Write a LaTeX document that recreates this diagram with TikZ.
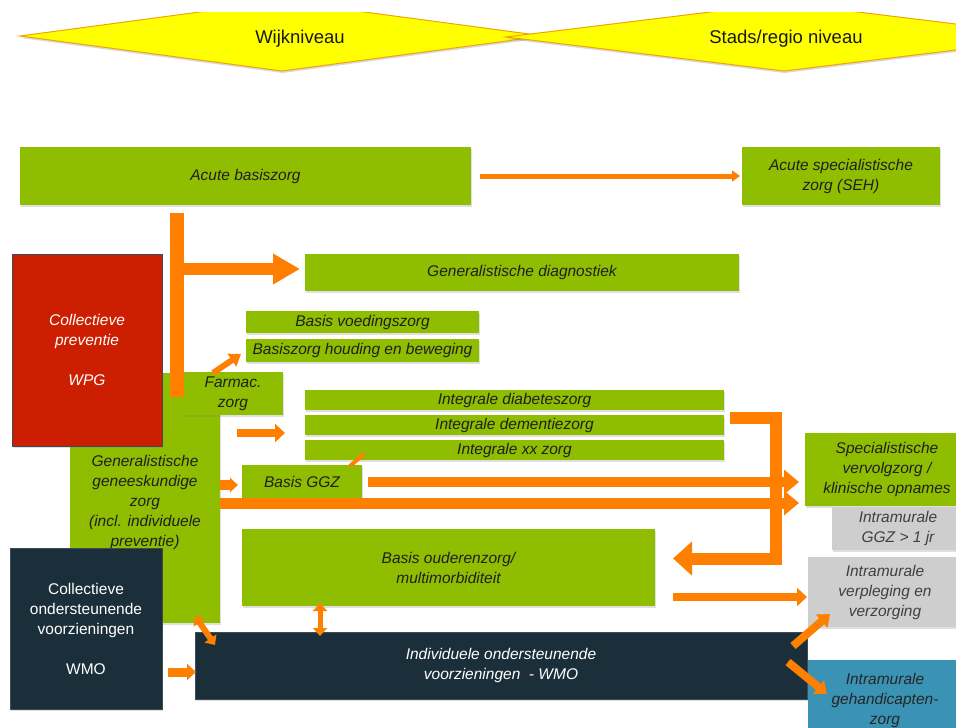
\documentclass[tikz,border=0pt]{standalone}
\usepackage{fontspec}
\setmainfont{Liberation Sans}
\usetikzlibrary{arrows.meta,shadows}
\definecolor{grn}{RGB}{143,190,0}
\definecolor{org}{RGB}{255,128,0}
\definecolor{redb}{RGB}{204,30,0}
\definecolor{navy}{RGB}{27,47,58}
\definecolor{grayb}{RGB}{206,206,206}
\definecolor{blueb}{RGB}{58,146,180}
\definecolor{ylw}{RGB}{255,255,0}
\definecolor{ylwline}{RGB}{240,165,0}
\definecolor{edge}{RGB}{60,75,85}
\begin{document}
\begin{tikzpicture}[x=1pt,y=-1pt,
  shd/.style={drop shadow={shadow xshift=1.2pt,shadow yshift=-1.6pt,opacity=0.25}},
  box/.style={inner sep=0pt,outer sep=0pt,align=center,shd,
    font=\fontsize{15.5}{20}\selectfont\itshape,text=black!88},
  gbox/.style={box,fill=grn},
  graybox/.style={box,fill=grayb,text=black!75},
  navybox/.style={box,fill=navy,draw=edge,line width=0.8pt,text=white},
  redbox/.style={box,fill=redb,draw=edge,line width=0.8pt,text=white},
  bluebox/.style={box,fill=blueb,text=black!85},
  dmd/.style={fill=ylw,draw=ylwline,line width=1pt,
    drop shadow={shadow xshift=0.5pt,shadow yshift=-2pt,opacity=0.3}},
  lvl/.style={font=\fontsize{18.5}{20}\selectfont,text=black!90,inner sep=0pt},
  oline/.style={draw=org,line width=#1},
  ohead/.style 2 args={-{Triangle[length=#1,width=#2]}},
  dhead/.style 2 args={{Triangle[length=#1,width=#2]}-{Triangle[length=#1,width=#2]}},
]
\useasboundingbox (0,0) rectangle (956,728);
\clip (0,0) rectangle (956,728);

% level diamonds
\begin{scope}
\clip (0,12) rectangle (956,728);
\path[dmd] (20,36) -- (282,1) -- (544,36) -- (282,71) -- cycle;
\path[dmd] (506,37) -- (784,3) -- (1062,37) -- (784,71) -- cycle;
\end{scope}
\node[lvl] (wijk) at (300,39) {Wijkniveau};
\node[lvl] (stad) at (786,39) {Stads/regio niveau};

% boxes
\node[gbox,minimum width=451pt,minimum height=58pt] (acute) at (245.5,176) {Acute basiszorg};
\node[gbox,minimum width=198pt,minimum height=58pt] (seh) at (841,176) {Acute specialistische\\zorg (SEH)};
\node[gbox,minimum width=434pt,minimum height=37pt] (diag) at (522,272.5) {Generalistische diagnostiek};
\node[gbox,minimum width=150pt,minimum height=250pt] (gen) at (145,498)
  {\raisebox{-4pt}[\height][\depth]{\begin{tabular}{@{}c@{}}Generalistische\\geneeskundige\\zorg\\(incl. individuele\\preventie)\end{tabular}}};
\node[redbox,minimum width=150pt,minimum height=192pt] (prev) at (87,350)
  {Collectieve\\preventie\\[20pt]WPG};
\node[gbox,minimum width=233pt,minimum height=22pt] (voed) at (362.5,322) {Basis voedingszorg};
\node[gbox,minimum width=233pt,minimum height=23pt] (houd) at (362.5,350.5) {Basiszorg houding en beweging};
\node[gbox,minimum width=100pt,minimum height=43pt] (farm) at (233,393.5) {Farmac.\\zorg};
\node[gbox,minimum width=419pt,minimum height=20pt] (int1) at (514.5,400) {Integrale diabeteszorg};
\node[gbox,minimum width=419pt,minimum height=20pt] (int2) at (514.5,425) {Integrale dementiezorg};
\node[gbox,minimum width=419pt,minimum height=20pt] (int3) at (514.5,450) {Integrale xx zorg};
\node[gbox,minimum width=120pt,minimum height=34pt] (ggz) at (302,482) {Basis GGZ};
\node[gbox,minimum width=164pt,minimum height=73pt] (spec) at (887,469.5)
  {Specialistische\\vervolgzorg /\\klinische opnames};
\node[graybox,minimum width=132pt,minimum height=43pt] (ggzj) at (898,528.5) {Intramurale\\GGZ > 1 jr};
\node[gbox,minimum width=413pt,minimum height=77pt] (oud) at (448.5,567.5) {Basis ouderenzorg/\\multimorbiditeit};
\node[graybox,minimum width=154pt,minimum height=70pt] (verp) at (885,592) {Intramurale\\verpleging en\\verzorging};
\node[navybox,minimum width=152pt,minimum height=161pt,font=\fontsize{15.5}{20}\selectfont] (coll) at (86,628.5)
  {Collectieve\\ondersteunende\\voorzieningen\\[20pt]WMO};
\node[navybox,minimum width=612pt,minimum height=67pt] (ind) at (501,665.5)
  {Individuele ondersteunende\\voorzieningen\ \ - WMO};
\node[bluebox,minimum width=154pt,minimum height=80pt] (gh) at (885,700) {Intramurale\\gehandicapten-\\zorg};

% free ends
\coordinate (a1) at (480,176);
\coordinate (t1) at (177,213);
\coordinate (t2) at (177,397);
\coordinate (tj) at (171,269);
\coordinate (fa) at (213,373);
\coordinate (fb) at (241,354);
\coordinate (ia) at (237,433);
\coordinate (ib) at (285,433);
\coordinate (ga) at (220,485);
\coordinate (gb) at (238,485);
\coordinate (sa) at (350,466);
\coordinate (sb) at (364,454);
\coordinate (ka) at (368,482);
\coordinate (kb) at (799,482);
\coordinate (la) at (220,503);
\coordinate (lb) at (799,503);
\coordinate (ba) at (730,417.5);
\coordinate (bc) at (776,558.5);
\coordinate (bb) at (673,558.5);
\coordinate (oa) at (673,597);
\coordinate (ob) at (807,597);
\coordinate (va) at (320,603);
\coordinate (vb) at (320,636);
\coordinate (da) at (195,616);
\coordinate (db) at (215,645);
\coordinate (ca) at (168,672);
\coordinate (cb) at (196,672);
\coordinate (ra) at (793,646);
\coordinate (rb) at (830,614);
\coordinate (qa) at (788,662);
\coordinate (qb) at (827,694);

% connectors
\draw[oline=5pt,ohead={8pt}{11pt}] (a1) -- ([xshift=-2pt]seh.west);
\draw[oline=14pt] (t1) -- (t2);
\draw[oline=12pt,ohead={27pt}{29pt}] (tj) -- ([xshift=-5pt]tj -| diag.west);
\draw[oline=6pt,ohead={11pt}{15pt}] (fa) -- (fb);
\draw[oline=8pt,ohead={10pt}{18pt}] (ia) -- (ib);
\draw[oline=10pt,ohead={8pt}{14pt}] (ga) -- (gb);
\draw[oline=4pt] (sa) -- (sb);
\draw[oline=12pt,line join=miter,ohead={19pt}{33pt}] (ba) -| (bc) -- (bb);
\draw[oline=10pt,ohead={15pt}{24pt}] (ka) -- (kb);
\draw[oline=11pt,ohead={15pt}{24pt}] (la) -- (lb);
\draw[oline=8pt,ohead={10pt}{18pt}] (oa) -- (ob);
\draw[oline=5pt,dhead={8pt}{14pt}] (va) -- (vb);
\draw[oline=6pt,dhead={8pt}{14pt}] (da) -- (db);
\draw[oline=9pt,ohead={9pt}{16pt}] (ca) -- (cb);
\draw[oline=8pt,ohead={11pt}{17pt}] (ra) -- (rb);
\draw[oline=8pt,ohead={11pt}{17pt}] (qa) -- (qb);
\end{tikzpicture}
\end{document}
